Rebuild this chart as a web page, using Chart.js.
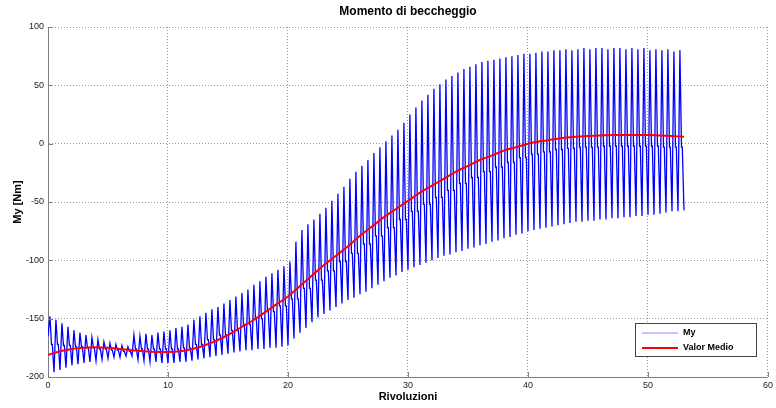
<!DOCTYPE html>
<html>
<head>
<meta charset="utf-8">
<title>Momento di beccheggio</title>
<script src="https://cdn.jsdelivr.net/npm/chart.js@4.4.1/dist/chart.umd.min.js"></script>
<style>
	html, body { margin: 0; padding: 0; background: #fff; }
	#box { width: 776px; height: 408px; }
</style>
</head>
<body>
<div id="box"><canvas id="myChart" width="776" height="408"></canvas></div>
<script>
	// giri interi 0..53 per la curva media
	var revolutions = [];
	for (var r = 0; r <= 53; r++) revolutions.push(r);

	// valor medio del momento, un valore per giro
	var meanValues = [
		-181, -178, -176, -175, -174.5, -175, -176, -177, -178, -178.5,
		-178.5, -178, -176, -173, -169, -164, -158, -152, -145, -138,
		-131, -122, -113, -104, -96, -88, -79, -71, -63, -56,
		-49, -42, -36, -30, -24, -19, -14, -10, -6, -3,
		0, 2, 3.5, 5, 6, 6.5, 7, 7.5, 7.5, 7.5,
		7.5, 7, 6.5, 6
	];

	// picchi di My, uno ogni mezzo giro (0, 0.5, ... 52.5)
	var peakValues = [
		-148, -151, -154, -157, -160, -162, -164, -166, -168, -170,
		-171, -172, -173, -174, -164, -165, -163, -164, -162, -161,
		-160, -158, -157, -155, -151, -148, -145, -142, -140, -137,
		-134, -131, -128, -125, -121, -118, -114, -111, -108, -105,
		-101, -84, -74, -69, -65, -60, -55, -49, -43, -37,
		-30, -24, -19, -14, -8, -3, 2, 7, 12, 18,
		25, 31, 37, 42, 47, 51, 55, 58, 61, 64,
		66, 68, 70, 71, 72, 73, 74, 75, 76, 77,
		77, 78, 79, 79, 80, 80, 81, 80, 81, 82,
		81, 82, 82, 81, 82, 82, 81, 82, 81, 82,
		80, 81, 80, 81, 79, 80
	];

	// minimi di My, ogni mezzo giro (0, 0.5, ... 53)
	var troughValues = [
		-165, -196, -194, -192, -190, -189, -188, -187, -186, -185,
		-184, -183, -183, -182, -182, -185, -186, -187, -187, -188,
		-188, -188, -187, -187, -186, -185, -184, -183, -182, -181,
		-180, -179, -178, -177, -177, -176, -176, -175, -175, -174,
		-173, -167, -162, -158, -153, -149, -146, -143, -140, -137,
		-134, -132, -129, -127, -124, -121, -118, -115, -113, -110,
		-108, -106, -104, -102, -100, -98, -96, -95, -93, -92,
		-90, -89, -87, -86, -84, -83, -81, -80, -78, -77,
		-75, -74, -73, -72, -71, -70, -69, -68, -67, -67,
		-66, -66, -65, -65, -64, -64, -63, -63, -62, -62,
		-61, -61, -60, -59, -58, -58, -57
	];

	// livello del tratto piatto dopo ogni picco, per giro
	var shoulderValues = [
		-172, -173, -174, -175, -176, -177, -178, -176, -176, -176,
		-176, -175, -172, -168, -164, -160, -155, -150, -144, -139,
		-133, -124, -117, -109, -101, -94, -86, -79, -72, -65,
		-58, -52, -46, -40, -34, -29, -24, -20, -16, -12,
		-9, -7, -5, -4, -3, -3, -2, -2, -2, -2,
		-2, -3, -3, -3
	];

	var xTicks = [0, 10, 20, 30, 40, 50, 60];
	var yTicks = [-200, -150, -100, -50, 0, 50, 100];

	function $each(arr, fn){ for (var i = 0; i < arr.length; i++) fn(i, arr[i]); }

	// forma di un ciclo: minimo, picco, tratto piatto
	var cycleStep = 0.5;
	var peakLag = 0.16, shoulderFrom = 0.29, shoulderTo = 0.36;

	var signal = [];
	$each(peakValues, function(i, peak){
		var x0 = i * cycleStep;
		var giro = Math.floor(x0);
		signal.push({x: x0, y: troughValues[i]});
		signal.push({x: x0 + peakLag, y: peak});
		signal.push({x: x0 + shoulderFrom, y: shoulderValues[giro]});
		signal.push({x: x0 + shoulderTo, y: shoulderValues[giro]});
	});
	signal.push({x: peakValues.length * cycleStep, y: troughValues[troughValues.length - 1]});

	var media = revolutions.map(function(g, i){ return {x: g, y: meanValues[i]}; });

	var fontName = "'Liberation Sans', Arial, Helvetica, sans-serif";

	// tacche interne agli assi, come in MATLAB
	var innerTicks = {
		id: 'innerTicks',
		afterDatasetsDraw: function(chart){
			var ctx = chart.ctx, area = chart.chartArea;
			var sx = chart.scales.x, sy = chart.scales.y;
			ctx.save();
			ctx.strokeStyle = '#7f7f7f';
			ctx.lineWidth = 1;
			ctx.beginPath();
			sy.ticks.forEach(function(t){
				var py = Math.round(sy.getPixelForValue(t.value)) + 0.5;
				ctx.moveTo(area.left, py);
				ctx.lineTo(area.left + 5, py);
			});
			sx.ticks.forEach(function(t){
				var px = Math.round(sx.getPixelForValue(t.value)) + 0.5;
				ctx.moveTo(px, area.bottom);
				ctx.lineTo(px, area.bottom - 5);
			});
			ctx.stroke();
			ctx.restore();
		}
	};

	// titolo centrato sull'area del grafico
	var plotTitle = {
		id: 'plotTitle',
		afterDraw: function(chart){
			var ctx = chart.ctx, area = chart.chartArea;
			ctx.save();
			ctx.font = "bold 12px " + fontName;
			ctx.fillStyle = '#000';
			ctx.textAlign = 'center';
			ctx.textBaseline = 'middle';
			ctx.fillText('Momento di beccheggio', (area.left + area.right) / 2, 12);
			ctx.restore();
		}
	};

	// legenda in basso a destra dentro gli assi
	var boxLegend = {
		id: 'boxLegend',
		afterDraw: function(chart){
			var ctx = chart.ctx, area = chart.chartArea;
			var w = 121, h = 33;
			var x = area.right - 12 - w, y = area.bottom - 21 - h;
			ctx.save();
			ctx.fillStyle = '#fff';
			ctx.fillRect(x, y, w, h);
			ctx.strokeStyle = '#444';
			ctx.lineWidth = 1;
			ctx.strokeRect(Math.round(x) + 0.5, Math.round(y) + 0.5, w, h);
			var voci = [
				{testo: 'My', colore: '#8a8aff', spessore: 1},
				{testo: 'Valor Medio', colore: '#ff0000', spessore: 2}
			];
			ctx.font = "bold 9px " + fontName;
			ctx.textBaseline = 'middle';
			ctx.fillStyle = '#000';
			voci.forEach(function(v, i){
				var ly = y + 10 + i * 15;
				ctx.strokeStyle = v.colore;
				ctx.lineWidth = v.spessore;
				ctx.beginPath();
				ctx.moveTo(x + 7, ly);
				ctx.lineTo(x + 43, ly);
				ctx.stroke();
				ctx.fillText(v.testo, x + 48, ly);
			});
			ctx.restore();
		}
	};

	var ctx = document.getElementById('myChart');
	var myChart = new Chart(ctx, {
		type: 'line',
		data: {
			datasets: [{
				label: 'My',
				data: signal,
				borderColor: '#0000ff',
				borderWidth: 1.3,
				pointRadius: 0,
				tension: 0,
				order: 1
			},{
				label: 'Valor Medio',
				data: media,
				borderColor: '#ff0000',
				borderWidth: 2,
				pointRadius: 0,
				cubicInterpolationMode: 'monotone',
				order: 0
			}]
		},
		options: {
			responsive: false,
			animation: false,
			events: [],
			layout: { padding: { top: 27, right: 6, bottom: 0, left: 0 } },
			plugins: {
				legend: { display: false },
				title: { display: false },
				tooltip: { enabled: false }
			},
			scales: {
				x: {
					type: 'linear',
					min: 0,
					max: 60,
					afterBuildTicks: function(scale){ scale.ticks = xTicks.map(function(v){ return {value: v}; }); },
					afterFit: function(scale){ scale.height = 31; },
					ticks: { padding: 3, color: '#222', font: { family: fontName, size: 9 }, maxRotation: 0 },
					grid: { color: '#9a9a9a', drawTicks: false },
					border: { display: true, color: '#7f7f7f', width: 1, dash: [1, 2] },
					title: { display: true, text: 'Rivoluzioni', color: '#000', font: { family: fontName, size: 11, weight: 'bold' }, padding: { top: 0, bottom: 4 } }
				},
				y: {
					min: -200,
					max: 100,
					afterBuildTicks: function(scale){ scale.ticks = yTicks.map(function(v){ return {value: v}; }); },
					afterFit: function(scale){ scale.width = 48; },
					ticks: { padding: 4, color: '#222', font: { family: fontName, size: 9 } },
					grid: { color: '#9a9a9a', drawTicks: false },
					border: { display: true, color: '#7f7f7f', width: 1, dash: [1, 2] },
					title: { display: true, text: 'My [Nm]', color: '#000', font: { family: fontName, size: 11, weight: 'bold' }, padding: { top: 11, bottom: 0 } }
				}
			}
		},
		plugins: [innerTicks, plotTitle, boxLegend]
	});
</script>
</body>
</html>
